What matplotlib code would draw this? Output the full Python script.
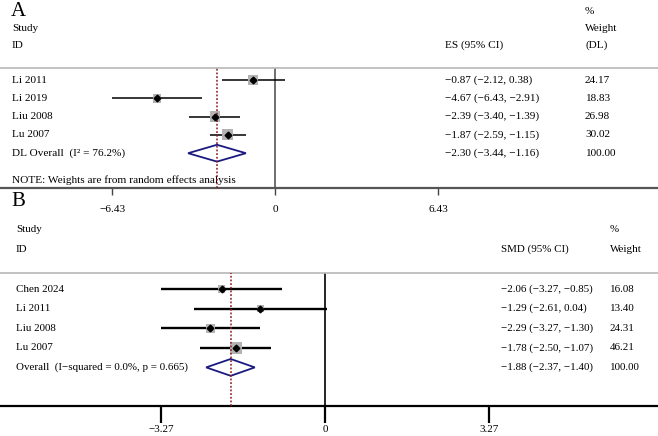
import matplotlib.pyplot as plt
import matplotlib.transforms as mtransforms
import numpy as np

plt.rcParams['font.family'] = ['Liberation Serif', 'DejaVu Serif']
plt.rcParams['font.size'] = 7.9

# panel A data
a_studies = ['Li 2011', 'Li 2019', 'Liu 2008', 'Lu 2007']
a_es = [-0.87, -4.67, -2.39, -1.87]
a_lo = [-2.12, -6.43, -3.40, -2.59]
a_hi = [0.38, -2.91, -1.39, -1.15]
a_wt = [24.17, 18.83, 26.98, 30.02]
a_overall = [-2.30, -3.44, -1.16]
a_ticks = [-6.43, 0, 6.43]
a_ticklabels = ['\u22126.43', '0', '6.43']

# panel B data
b_studies = ['Chen 2024', 'Li 2011', 'Liu 2008', 'Lu 2007']
b_es = [-2.06, -1.29, -2.29, -1.78]
b_lo = [-3.27, -2.61, -3.27, -2.50]
b_hi = [-0.85, 0.04, -1.30, -1.07]
b_wt = [16.08, 13.40, 24.31, 46.21]
b_overall = [-1.88, -2.37, -1.40]
b_ticks = [-3.27, 0, 3.27]
b_ticklabels = ['\u22123.27', '0', '3.27']

W, H = 658, 436
fig = plt.figure(figsize=(W / 100, H / 100), dpi=100)


def fx(px):
    return px / W


def fy(py):
    return 1 - py / H


def num(v):
    return ('%.2f' % v).replace('-', '\u2212')


def ci_text(e, l, h):
    return '%s (%s, %s)' % (num(e), num(l), num(h))


def panel(top, bottom, xlim, row0, row_step, studies, es, lo, hi, wt, overall,
          ticks, ticklabels, box_k, lw, axis_color, zero_color, diamond_h):
    ax = fig.add_axes([0, fy(bottom), 1, (bottom - top) / H])
    ax.set_xlim(*xlim)
    ylo = (bottom - row0) / row_step
    yhi = (top - row0) / row_step
    ax.set_ylim(ylo, yhi)
    ax.patch.set_alpha(0)
    for s in ['left', 'right']:
        ax.spines[s].set_visible(False)
    ax.spines['top'].set_color('#b8b8b8')
    ax.spines['top'].set_linewidth(1.2)
    ax.spines['bottom'].set_color(axis_color)
    ax.spines['bottom'].set_linewidth(1.6)
    ax.set_yticks([])
    ax.set_xticks(ticks)
    ax.set_xticklabels(ticklabels)
    ax.axvline(0, color=zero_color, lw=1.2, zorder=1)
    ax.axvline(overall[0], color='#8b1a1a', lw=1.1, ls=(0, (1.2, 1.2)), zorder=4)
    rows = np.arange(len(studies))
    ax.hlines(rows, lo, hi, color='black', lw=lw, zorder=2)
    ax.scatter(es, rows, s=(0.72 * box_k) ** 2 * np.array(wt), marker='s',
               color='#b3b3b3', lw=0, zorder=3)
    ax.plot(es, rows, 'D', color='black', ms=3.4, zorder=5)
    yo = len(studies)
    ax.fill([overall[1], overall[0], overall[2], overall[0]],
            [yo, yo - diamond_h, yo, yo + diamond_h],
            facecolor='white', edgecolor='#1a1a80', lw=1.3, zorder=3)
    return ax


# ---- panel A ----
axA = panel(68, 188, (-275.3 / 25.35, (W - 275.3) / 25.35), 80, 18.3,
            a_studies, a_es, a_lo, a_hi, a_wt, a_overall, a_ticks, a_ticklabels,
            2.0, 1.1, '#555555', '#555555', 0.46)
axA.tick_params(axis='x', length=5, width=1, color='#444444', pad=7,
                labelsize=8.1)
trA = mtransforms.blended_transform_factory(axA.transAxes, axA.transData)
fsA = 8.1
for i, name in enumerate(a_studies):
    axA.text(fx(12), i, name, transform=trA, va='center', fontsize=fsA)
    axA.text(fx(445), i, ci_text(a_es[i], a_lo[i], a_hi[i]), transform=trA,
             va='center', fontsize=fsA)
    axA.text(fx(585), i, num(a_wt[i]), transform=trA, va='center', fontsize=fsA)
n = len(a_studies)
axA.text(fx(12), n, 'DL Overall  (I\u00b2 = 76.2%)', transform=trA, va='center',
         fontsize=fsA)
axA.text(fx(445), n, ci_text(*a_overall), transform=trA, va='center', fontsize=fsA)
axA.text(fx(585), n, '100.00', transform=trA, va='center', fontsize=fsA)
axA.text(fx(12), n + 1.48, 'NOTE: Weights are from random effects analysis',
         transform=trA, va='center', fontsize=fsA)

fig.text(fx(11), fy(11), 'A', fontsize=15, va='center')
fig.text(fx(12), fy(28), 'Study', va='center', fontsize=fsA)
fig.text(fx(12), fy(45), 'ID', va='center', fontsize=fsA)
fig.text(fx(445), fy(45), 'ES (95% CI)', va='center', fontsize=fsA)
fig.text(fx(585), fy(11), '%', va='center', fontsize=fsA)
fig.text(fx(585), fy(28), 'Weight', va='center', fontsize=fsA)
fig.text(fx(585), fy(45), '(DL)', va='center', fontsize=fsA)

# ---- panel B ----
axB = panel(273, 406, (-325 / 50.15, (W - 325) / 50.15), 289, 19.6,
            b_studies, b_es, b_lo, b_hi, b_wt, b_overall, b_ticks, b_ticklabels,
            1.8, 1.7, 'black', 'black', 0.43)
axB.tick_params(axis='x', length=12, width=1.6, color='black', pad=2)
trB = mtransforms.blended_transform_factory(axB.transAxes, axB.transData)
for i, name in enumerate(b_studies):
    axB.text(fx(16), i, name, transform=trB, va='center')
    axB.text(fx(501), i, ci_text(b_es[i], b_lo[i], b_hi[i]), transform=trB,
             va='center')
    axB.text(fx(610), i, num(b_wt[i]), transform=trB, va='center')
n = len(b_studies)
axB.text(fx(16), n, 'Overall  (I\u2212squared = 0.0%, p = 0.665)', transform=trB,
         va='center')
axB.text(fx(501), n, ci_text(*b_overall), transform=trB, va='center')
axB.text(fx(610), n, '100.00', transform=trB, va='center')

fig.text(fx(11), fy(201), 'B', fontsize=15, va='center')
fig.text(fx(16), fy(230), 'Study', va='center')
fig.text(fx(16), fy(249), 'ID', va='center')
fig.text(fx(501), fy(249), 'SMD (95% CI)', va='center')
fig.text(fx(610), fy(230), '%', va='center')
fig.text(fx(610), fy(249), 'Weight', va='center')

fig.savefig('out.png', dpi=100)
